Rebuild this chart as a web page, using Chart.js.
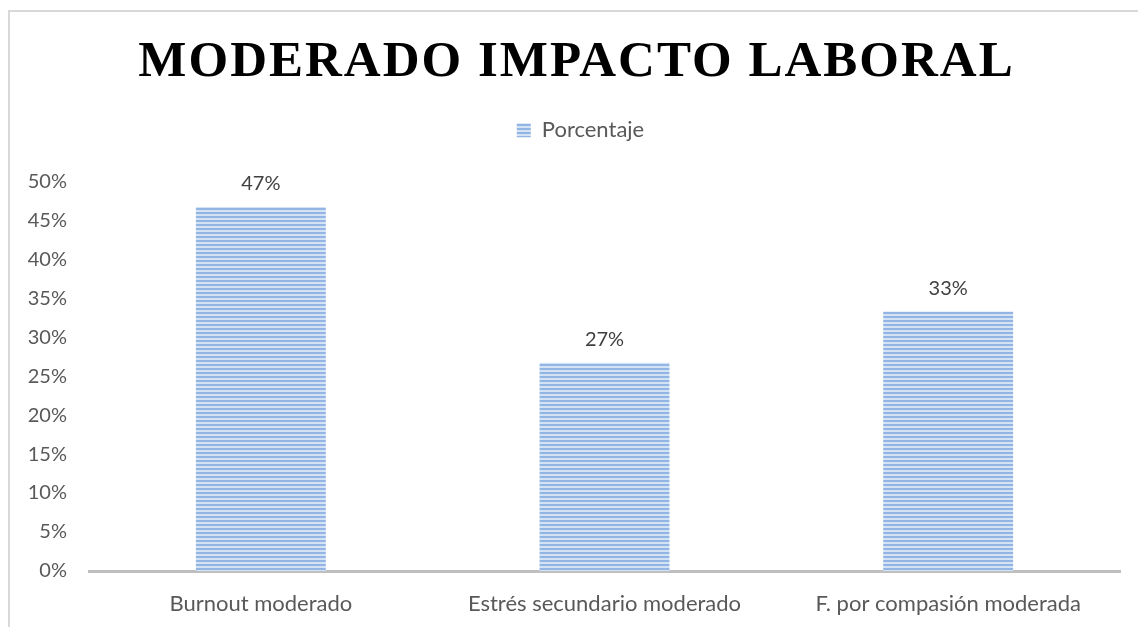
<!DOCTYPE html>
<html lang="es">
<head>
  <meta charset="UTF-8" />
  <title>Moderado impacto laboral</title>
  <script src="https://cdn.jsdelivr.net/npm/chart.js@4.4.0/dist/chart.umd.min.js"></script>
  <style>
    body { margin: 0; background: #fff; overflow: hidden; }
    #frame {
      position: absolute; left: 8px; top: 10px;
      width: 1200px; height: 700px;
      border: 2px solid #d9d9d9;
    }
    #impactChart { position: absolute; left: 0; top: 0; }
  </style>
</head>
<body>
  <div id="frame"></div>
  <canvas id="impactChart" width="1138" height="627"></canvas>

  <script>
    const chartTitle = 'MODERADO IMPACTO LABORAL';
    const seriesName = 'Porcentaje';
    const categories = ['Burnout moderado', 'Estrés secundario moderado', 'F. por compasión moderada'];
    const percentages = [46.7, 26.7, 33.3];
    const yTicks = [0, 5, 10, 15, 20, 25, 30, 35, 40, 45, 50];

    // horizontal stripes like the Excel pattern fill
    function stripeFill() {
      const c = document.createElement('canvas');
      c.width = 4; c.height = 4;
      const g = c.getContext('2d');
      g.fillStyle = '#d3e2f4';
      g.fillRect(0, 0, 4, 4);
      g.fillStyle = '#92b5e3';
      g.fillRect(0, 0, 4, 2);
      return g.createPattern(c, 'repeat');
    }

    const textGrey = '#595959';
    const numFont = { family: 'Lato, sans-serif', size: 20 };
    const labelFont = { family: 'Lato, sans-serif', size: 22 };

    // wrap a layout box's draw so it is nudged sideways (and letter-spaced)
    function nudge(chart, box, dx, spacing) {
      const draw = box.draw.bind(box);
      box.draw = function (area) {
        chart.ctx.save();
        chart.ctx.translate(dx, 0);
        if (spacing) chart.ctx.letterSpacing = spacing;
        draw(area);
        chart.ctx.restore();
      };
    }

    const tweaks = {
      id: 'tweaks',
      beforeInit(chart) {
        // extra room under the legend
        const fit = chart.legend.fit;
        chart.legend.fit = function () {
          fit.bind(chart.legend)();
          this.height += 30;
        };
        nudge(chart, chart.titleBlock, 14, '2px');
        nudge(chart, chart.legend, 18);
      },
      afterDatasetsDraw(chart) {
        const ctx = chart.ctx;
        const meta = chart.getDatasetMeta(0);
        ctx.save();
        ctx.font = '20px Lato, sans-serif';
        ctx.fillStyle = '#404040';
        ctx.textAlign = 'center';
        ctx.textBaseline = 'middle';
        meta.data.forEach((bar, i) => {
          ctx.fillText(Math.round(percentages[i]) + '%', bar.x, bar.y - 23);
        });
        ctx.restore();
      }
    };

    new Chart(document.getElementById('impactChart'), {
      type: 'bar',
      data: {
        labels: categories,
        datasets: [{
          label: seriesName,
          data: percentages,
          backgroundColor: stripeFill(),
          borderWidth: 0,
          categoryPercentage: 1,
          barPercentage: 0.378
        }]
      },
      options: {
        responsive: false,
        animation: false,
        layout: { padding: { top: 0, left: 5, right: 18, bottom: 0 } },
        plugins: {
          title: {
            display: true,
            text: chartTitle,
            color: '#000',
            font: { family: '"Liberation Serif", "Times New Roman", serif', size: 51, weight: 'bold' },
            padding: { top: 32, bottom: 16 }
          },
          legend: {
            display: true,
            labels: {
              boxWidth: 14,
              boxHeight: 14,
              color: textGrey,
              font: labelFont
            }
          },
          tooltip: { enabled: false }
        },
        scales: {
          x: {
            grid: { display: false, drawTicks: false },
            border: { display: true, color: '#bfbfbf', width: 3 },
            ticks: { color: textGrey, font: labelFont, padding: 20 },
            afterFit(scale) { scale.height = 56; }
          },
          y: {
            min: 0,
            max: 50,
            afterBuildTicks(scale) { scale.ticks = yTicks.map(v => ({ value: v })); },
            grid: { display: false, drawTicks: false },
            border: { display: false },
            ticks: { color: textGrey, font: numFont, padding: 22, callback: v => v + '%' },
            afterFit(scale) { scale.width = 84; }
          }
        }
      },
      plugins: [tweaks]
    });
  </script>
</body>
</html>
